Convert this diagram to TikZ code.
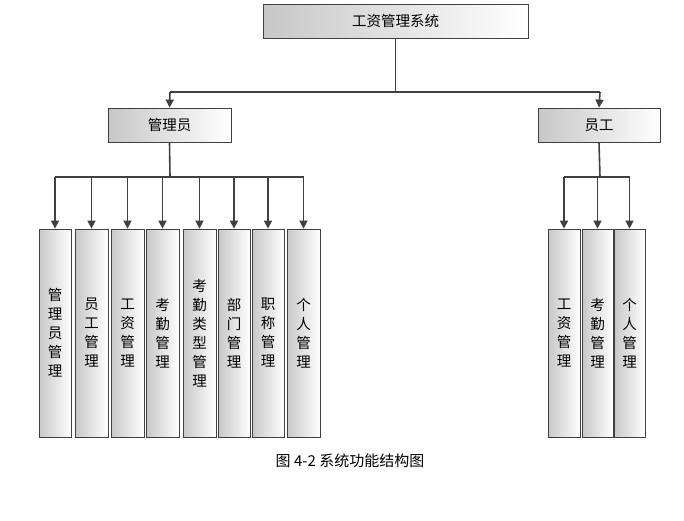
\documentclass[tikz,border=0pt]{standalone}
\usepackage{fontspec}
\newfontfamily\cjk{Noto Sans CJK SC}
\usetikzlibrary{arrows.meta}
\begin{document}
\begin{tikzpicture}[x=1pt,y=-1pt,
  box/.style={draw=black!75,line width=0.8pt,left color=black!22,right color=white,shading angle=90,font=\cjk\fontsize{14.5}{19}\selectfont,align=center,inner sep=0pt},
  conn/.style={draw=black!75,line width=1.6pt},
  arr/.style={conn,-{Triangle[length=8pt,width=8pt]}}]
\useasboundingbox (0,0) rectangle (684,520);
\fill[white] (0,0) rectangle (684,520);
\node[box,minimum width=265pt,minimum height=34pt] (top) at (395.5,21) {工资管理系统};
\node[box,minimum width=123pt,minimum height=34pt] (adm) at (169.5,125) {管理员};
\node[box,minimum width=122pt,minimum height=34pt] (emp) at (599,125) {员工};
\coordinate (j0) at (395.5,92);
\draw[conn] (top.south) -- (j0);
\draw[conn] (170,92) -- (600,92);
\draw[arr] (170,92) -- (adm.north);
\draw[arr] (600,92) -- (emp.north);
\foreach \n/\xa/\xb/\t in {a1/39/71/{管\\理\\员\\管\\理},a2/75/108/{员\\工\\管\\理},a3/111/144/{工\\资\\管\\理},a4/146/179/{考\\勤\\管\\理},a5/183/216/{考\\勤\\类\\型\\管\\理},a6/218/250/{部\\门\\管\\理},a7/252/284/{职\\称\\管\\理},a8/287/320/{个\\人\\管\\理},b1/548/580/{工\\资\\管\\理},b2/582/613/{考\\勤\\管\\理},b3/614/645/{个\\人\\管\\理}}
  \node[box,minimum width=\xb-\xa,minimum height=208pt] (\n) at ({(\xa+\xb)/2},333) {\t};
\draw[conn] (adm.south) -- (170,177);
\draw[conn] (a1.north |- 0,177) -- (a8.north |- 0,177);
\foreach \n in {a1,a2,a3,a4,a5,a6,a7,a8} \draw[arr] (\n.north |- 0,177) -- (\n.north);
\draw[conn] (emp.south) -- (600,177);
\draw[conn] (b1.north |- 0,177) -- (b3.north |- 0,177);
\foreach \n in {b1,b2,b3} \draw[arr] (\n.north |- 0,177) -- (\n.north);
\node[font=\cjk\fontsize{15}{17}\selectfont] (cap) at (350,461) {图 4-2 系统功能结构图};
\end{tikzpicture}
\end{document}
